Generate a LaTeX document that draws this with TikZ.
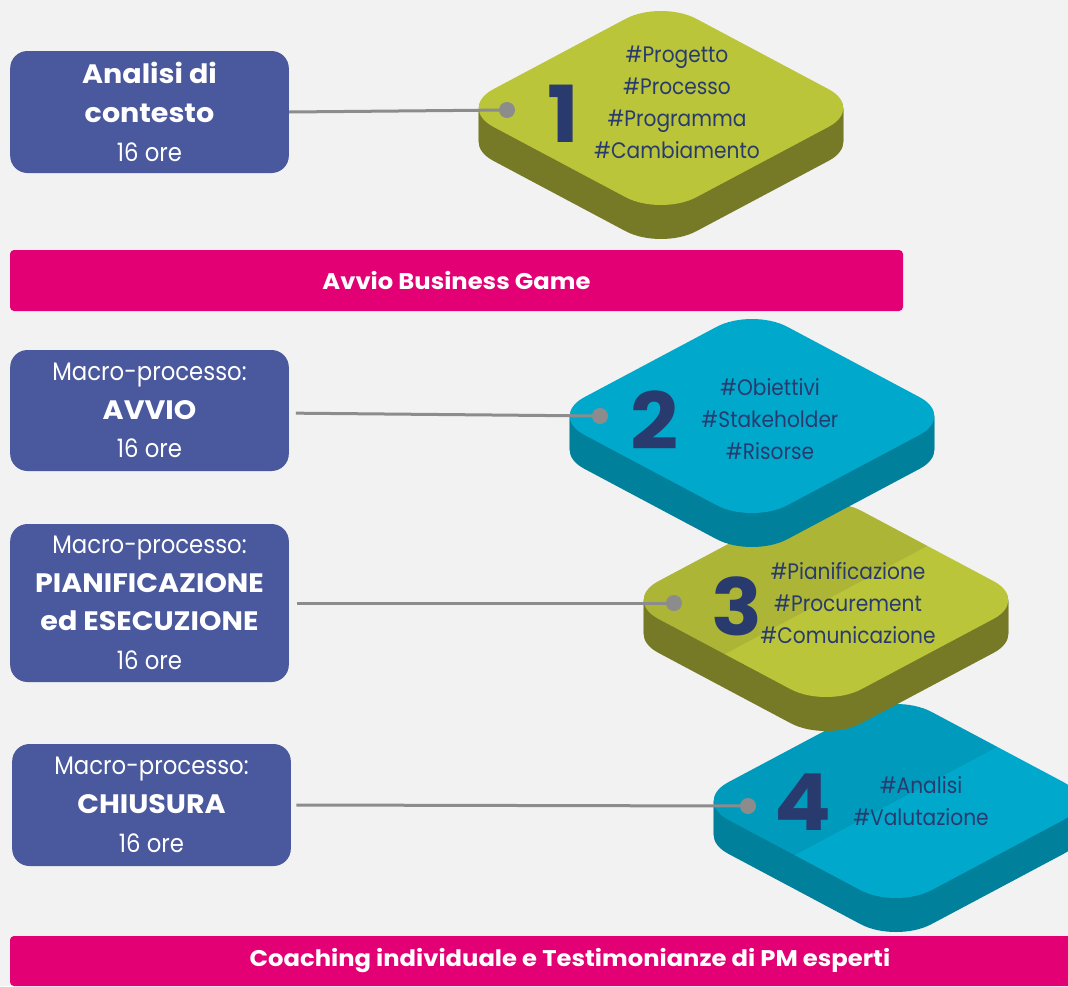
\documentclass[tikz,border=0pt]{standalone}
\usepackage{fontspec}
\setmainfont{Poppins}[FakeStretch=0.9, BoldFeatures={FakeStretch=1.07}]
\usetikzlibrary{positioning}
\definecolor{colorBg}{HTML}{F2F2F2}
\definecolor{colorBox}{HTML}{4A589E}
\definecolor{colorBar}{HTML}{E20074}
\definecolor{colorLine}{HTML}{8C8C8C}
\definecolor{colorText}{HTML}{293B6E}
\definecolor{colorOliveT}{HTML}{BBC53A}
\definecolor{colorOliveS}{HTML}{767A26}
\definecolor{colorCyanT}{HTML}{00A9CC}
\definecolor{colorCyanS}{HTML}{00809B}

\newcommand{\tileshape}{(-203,0) -- (0,-108) -- (203,0) -- (0,108) -- cycle}
\newcommand{\hl}[1]{{\bfseries\fontsize{20}{29}\selectfont #1}}

\tikzset{
    phasebox/.style={fill=colorBox, rounded corners=13pt, text=white, align=center,
        minimum width=209pt, inner sep=0pt, font=\fontsize{19}{29}\selectfont},
    bar/.style={fill=colorBar, rounded corners=3pt, text=white, inner sep=0pt,
        font=\bfseries\fontsize{17}{22}\selectfont},
    link/.style={draw=colorLine, line width=2.25pt},
    dot/.style={circle, fill=colorLine, minimum size=12pt, inner sep=0pt},
    tags/.style={text=colorText, align=center, inner sep=0pt, font=\fontsize{16.8}{24}\selectfont},
    num/.style={text=colorText, inner sep=0pt, font=\bfseries\fontsize{59}{59}\selectfont},
    tile/.style={rounded corners=30pt},
}

\begin{document}
\begin{tikzpicture}[x=0.75pt, y=-0.75pt]
        \useasboundingbox (0,0) rectangle (1068,986);
        \clip (0,0) rectangle (1068,986);
        \fill[colorBg] (0,0) rectangle (1068,986);

        % tiles, lowest first
        \begin{scope}[shift={(896,801)}]
            \foreach \d in {1,...,34} \fill[colorCyanS, tile, shift={(0,\d)}] \tileshape;
            \fill[colorCyanT, tile] \tileshape;
            \begin{scope}
            \clip[tile] \tileshape;
            \fill[black, opacity=.08] (-101,54) -- (101,-54) -- (0,-200) -- (-300,0) -- cycle;
            \end{scope}
        \end{scope}

        \begin{scope}[shift={(826,600)}]
            \foreach \d in {1,...,34} \fill[colorOliveS, tile, shift={(0,\d)}] \tileshape;
            \fill[colorOliveT, tile] \tileshape;
            \begin{scope}
            \clip[tile] \tileshape;
            \fill[black, opacity=.08] (-101,54) -- (101,-54) -- (0,-200) -- (-300,0) -- cycle;
            \end{scope}
        \end{scope}

        \begin{scope}[shift={(752,416)}]
            \foreach \d in {1,...,34} \fill[colorCyanS, tile, shift={(0,\d)}] \tileshape;
            \fill[colorCyanT, tile] \tileshape;
        \end{scope}

        \begin{scope}[shift={(661,108)}]
            \foreach \d in {1,...,34} \fill[colorOliveS, tile, shift={(0,\d)}] \tileshape;
            \fill[colorOliveT, tile] \tileshape;
        \end{scope}

        % bars
        \node[bar, minimum width=669.75pt, minimum height=45.75pt] (start) at (456.5,280.5) {Avvio Business Game};
        \node[bar, minimum width=840pt, minimum height=37.5pt] (coaching) at (570,961) {Coaching individuale e Testimonianze di PM esperti};

        % phases
        \node[phasebox, minimum height=91.5pt] (box1) at (149.5,112) {\hl{Analisi di}\\\hl{contesto}\\16 ore};
        \node[phasebox, minimum height=90.75pt] (box2) at (149.5,410.5) {Macro-processo:\\\hl{AVVIO}\\16 ore};
        \node[phasebox, minimum height=118.5pt] (box3) at (149.5,603) {Macro-processo:\\\hl{PIANIFICAZIONE}\\\hl{ed ESECUZIONE}\\16 ore};
        \node[phasebox, minimum height=91.5pt] (box4) at (151.5,805) {Macro-processo:\\\hl{CHIUSURA}\\16 ore};

        \node[dot] (dot1) at (507,110) {};
        \node[dot] (dot2) at (600,416) {};
        \node[dot] (dot3) at (674,603) {};
        \node[dot] (dot4) at (748,806) {};

        \draw[link] (box1.east) -- (dot1.center);
        \draw[link] ([xshift=5pt, yshift=-2pt]box2.east) -- (dot2.center);
        \draw[link] ([xshift=6pt]box3.east) -- (dot3.center);
        \draw[link] ([xshift=4pt]box4.east) -- (dot4.center);

        % tile labels
        \node[num] (num1) at (563,114) {1};
        \node[num] (num2) at (655,420) {2};
        \node[num] (num3) at (737,606) {3};
        \node[num] (num4) at (803,802) {4};

        \node[tags] (tags1) at (677,102) {\#Progetto\\\#Processo\\\#Programma\\\#Cambiamento};
        \node[tags] (tags2) at (770,419) {\#Obiettivi\\\#Stakeholder\\\#Risorse};
        \node[tags] (tags3) at (848,603) {\#Pianificazione\\\#Procurement\\\#Comunicazione};
        \node[tags] (tags4) at (921,801) {\#Analisi\\\#Valutazione};
    \end{tikzpicture}
\end{document}
